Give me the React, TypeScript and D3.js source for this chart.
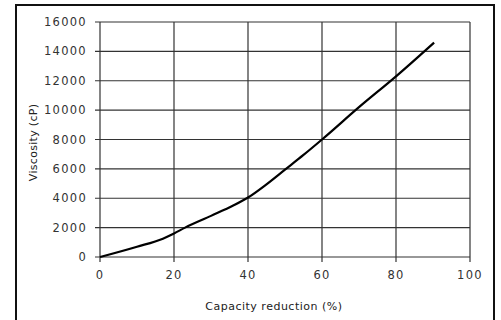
import React, { useRef, useEffect } from "react";
import * as d3 from "d3";

const capacity = [0, 10, 17, 20, 23, 30, 36, 40, 45, 50, 55, 60, 70, 80, 90.3];
const viscosity = [0, 700, 1250, 1600, 2000, 2800, 3500, 4050, 4950, 5950, 6950, 8000, 10200, 12300, 14600];
const xTicks = [0, 20, 40, 60, 80, 100];
const yTicks = [0, 2000, 4000, 6000, 8000, 10000, 12000, 14000, 16000];

const App: React.FC = () => {
  const svgRef = useRef<SVGSVGElement>(null);

  useEffect(() => {
    const svg = d3.select(svgRef.current);
    svg.selectAll("*").remove();
    const font = "'DejaVu Sans', Verdana, sans-serif";

    svg.append("rect").attr("x", 0).attr("y", 0).attr("width", 501).attr("height", 320).attr("fill", "#fff");
    // outer frame
    svg.append("rect")
      .attr("x", 16).attr("y", 5).attr("width", 478).attr("height", 325)
      .attr("fill", "none").attr("stroke", "#111").attr("stroke-width", 2);

    const x = d3.scaleLinear().domain([0, 100]).range([100, 470]);
    const y = d3.scaleLinear().domain([0, 16000]).range([257, 22]);

    const grid = svg.append("g").attr("stroke", "#333").attr("stroke-width", 1.2);
    yTicks.forEach((t) => {
      grid.append("line").attr("x1", x(0) - 5).attr("x2", x(100)).attr("y1", y(t)).attr("y2", y(t));
    });
    xTicks.forEach((t) => {
      grid.append("line").attr("x1", x(t)).attr("x2", x(t)).attr("y1", y(16000)).attr("y2", y(0) + 5);
    });

    svg.append("g").selectAll("text").data(yTicks).enter().append("text")
      .attr("x", 87).attr("y", (d) => y(d)).attr("dy", "0.35em")
      .attr("text-anchor", "end").attr("font-family", font).attr("font-size", 11.5)
      .attr("letter-spacing", 1.3).attr("fill", "#333")
      .text((d) => d);

    svg.append("g").selectAll("text").data(xTicks).enter().append("text")
      .attr("x", (d) => x(d)).attr("y", 279)
      .attr("text-anchor", "middle").attr("font-family", font).attr("font-size", 11.5)
      .attr("letter-spacing", 1.3).attr("fill", "#333")
      .text((d) => d);

    svg.append("text")
      .attr("x", x(47)).attr("y", 310).attr("text-anchor", "middle")
      .attr("font-family", font).attr("font-size", 11).attr("letter-spacing", 0.5).attr("fill", "#222")
      .text("Capacity reduction (%)");

    svg.append("text")
      .attr("transform", `translate(37,${y(7800)}) rotate(-90)`).attr("text-anchor", "middle")
      .attr("font-family", font).attr("font-size", 11).attr("letter-spacing", 0.3).attr("fill", "#222")
      .text("Viscosity (cP)");

    const pts: [number, number][] = capacity.map((c, i) => [c, viscosity[i]]);
    const line = d3.line<[number, number]>()
      .curve(d3.curveMonotoneX)
      .x((d) => x(d[0]))
      .y((d) => y(d[1]));
    svg.append("path").datum(pts)
      .attr("fill", "none").attr("stroke", "#000").attr("stroke-width", 2.2)
      .attr("d", line);
  }, []);

  return <svg ref={svgRef} width={501} height={320} style={{ position: "absolute", left: 0, top: 0 }}></svg>;
};

export default App;
